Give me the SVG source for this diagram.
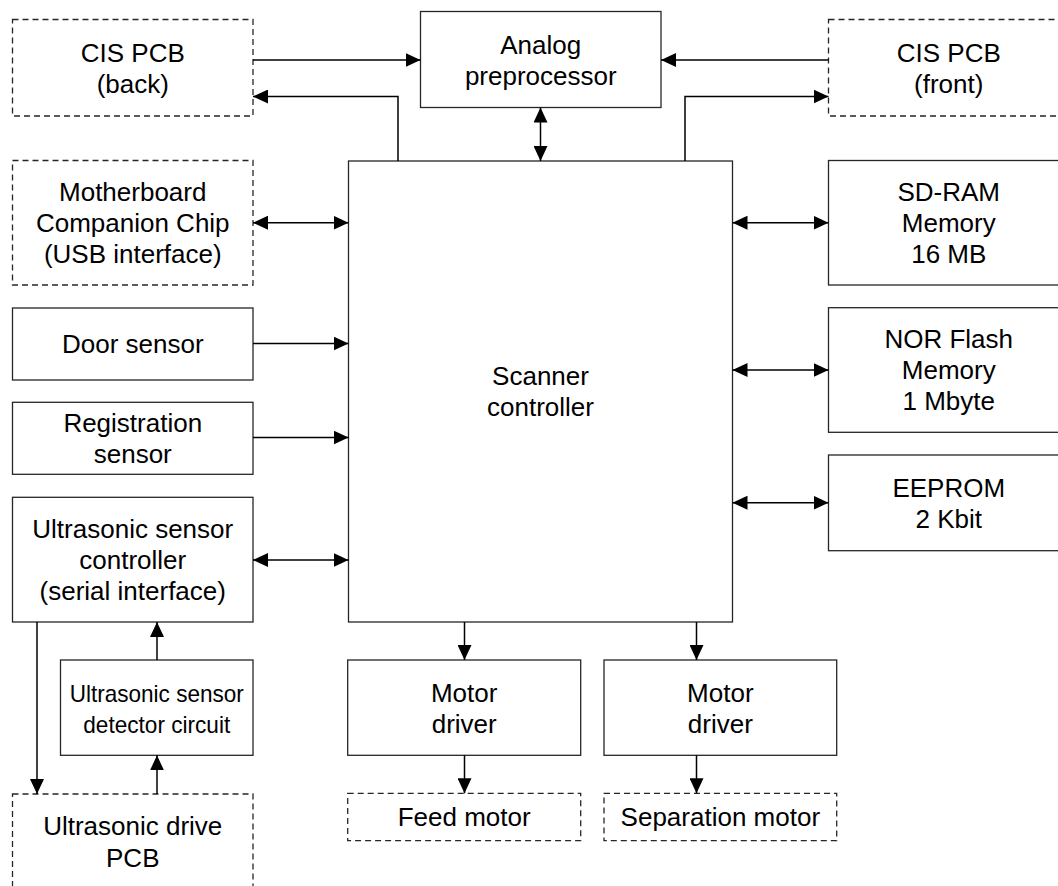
<svg xmlns="http://www.w3.org/2000/svg" width="1058" height="886" viewBox="0 0 1058 886">
<style>
  .box { fill: #ffffff; stroke: #262626; stroke-width: 1.3; }
  .dash { stroke-dasharray: 6 4; }
  .t { font-family: "Liberation Sans", Arial, sans-serif; font-size: 26px; fill: #000; text-anchor: middle; }
  .ts { font-family: "Liberation Sans", Arial, sans-serif; font-size: 24px; fill: #000; text-anchor: middle; }
  .c { fill: none; stroke: #000; stroke-width: 1.5; }
  .one { marker-end: url(#ah); }
  .two { marker-start: url(#ah); marker-end: url(#ah); }
</style>
<defs>
  <marker id="ah" viewBox="0 0 15 14" refX="15" refY="7" markerWidth="15" markerHeight="14" orient="auto-start-reverse" markerUnits="userSpaceOnUse">
    <path d="M0,0 L15,7 L0,14 z" fill="#000"/>
  </marker>
</defs>
<rect width="1058" height="886" fill="#ffffff"/>

<g id="cis-back">
  <rect class="box dash" x="12.5" y="19.5" width="240.5" height="96.5"/>
  <text class="t" x="132.75" y="61.5">CIS PCB</text>
  <text class="t" x="132.75" y="92.5">(back)</text>
</g>
<g id="analog">
  <rect class="box" x="420.5" y="11.5" width="240.5" height="96"/>
  <text class="t" x="540.75" y="53.6">Analog</text>
  <text class="t" x="540.75" y="84.6">preprocessor</text>
</g>
<g id="cis-front">
  <rect class="box dash" x="828.5" y="19.5" width="240.5" height="96.5"/>
  <text class="t" x="948.75" y="61.5">CIS PCB</text>
  <text class="t" x="948.75" y="92.5">(front)</text>
</g>
<g id="controller">
  <rect class="box" x="348.5" y="161" width="384" height="461"/>
  <text class="t" x="540.5" y="385">Scanner</text>
  <text class="t" x="540.5" y="416">controller</text>
</g>
<g id="motherboard">
  <rect class="box dash" x="12.5" y="160.5" width="240.5" height="124.5"/>
  <text class="t" x="132.75" y="201">Motherboard</text>
  <text class="t" x="132.75" y="232">Companion Chip</text>
  <text class="t" x="132.75" y="263">(USB interface)</text>
</g>
<g id="door">
  <rect class="box" x="12.5" y="308" width="240.5" height="72"/>
  <text class="t" x="132.75" y="353">Door sensor</text>
</g>
<g id="registration">
  <rect class="box" x="12.5" y="402.3" width="240.5" height="72"/>
  <text class="t" x="132.75" y="432">Registration</text>
  <text class="t" x="132.75" y="463">sensor</text>
</g>
<g id="us-controller">
  <rect class="box" x="12.5" y="497.3" width="240.5" height="124.7"/>
  <text class="t" x="132.75" y="537.5">Ultrasonic sensor</text>
  <text class="t" x="132.75" y="568.5">controller</text>
  <text class="t" x="132.75" y="599.5">(serial interface)</text>
</g>
<g id="us-detector">
  <rect class="box" x="60.5" y="660" width="192.5" height="95.3"/>
  <text class="ts" x="156.75" y="701.5" textLength="174" lengthAdjust="spacingAndGlyphs">Ultrasonic sensor</text>
  <text class="ts" x="156.75" y="733" textLength="147" lengthAdjust="spacingAndGlyphs">detector circuit</text>
</g>
<g id="us-drive">
  <rect class="box dash" x="12.5" y="794" width="240.5" height="96"/>
  <text class="t" x="132.75" y="835">Ultrasonic drive</text>
  <text class="t" x="132.75" y="866.5">PCB</text>
</g>
<g id="motor-driver-1">
  <rect class="box" x="347.7" y="660" width="233" height="95.3"/>
  <text class="t" x="464.2" y="701.5">Motor</text>
  <text class="t" x="464.2" y="732.5">driver</text>
</g>
<g id="motor-driver-2">
  <rect class="box" x="604" y="660" width="232.7" height="95.3"/>
  <text class="t" x="720.35" y="701.5">Motor</text>
  <text class="t" x="720.35" y="732.5">driver</text>
</g>
<g id="feed-motor">
  <rect class="box dash" x="347.7" y="793.3" width="233" height="47.4"/>
  <text class="t" x="464.2" y="826.3">Feed motor</text>
</g>
<g id="separation-motor">
  <rect class="box dash" x="604" y="793.3" width="232.7" height="47.4"/>
  <text class="t" x="720.35" y="826.3">Separation motor</text>
</g>
<g id="sdram">
  <rect class="box" x="828.5" y="160.5" width="240.5" height="124.5"/>
  <text class="t" x="948.75" y="201">SD-RAM</text>
  <text class="t" x="948.75" y="232">Memory</text>
  <text class="t" x="948.75" y="263">16 MB</text>
</g>
<g id="nor">
  <rect class="box" x="828.5" y="307.7" width="240.5" height="124.6"/>
  <text class="t" x="948.75" y="348">NOR Flash</text>
  <text class="t" x="948.75" y="379">Memory</text>
  <text class="t" x="948.75" y="410">1 Mbyte</text>
</g>
<g id="eeprom">
  <rect class="box" x="828.5" y="455" width="240.5" height="95.7"/>
  <text class="t" x="948.75" y="496.5">EEPROM</text>
  <text class="t" x="948.75" y="527.5">2 Kbit</text>
</g>

<g id="connectors">
  <path class="c one" d="M253,60 H420.5"/>
  <path class="c one" d="M398,161 V96.5 H253"/>
  <path class="c one" d="M828.5,60 H661"/>
  <path class="c one" d="M685,161 V96.5 H828.5"/>
  <path class="c two" d="M540.5,107.5 V161"/>
  <path class="c two" d="M253,222.7 H348.5"/>
  <path class="c one" d="M253,343.5 H348.5"/>
  <path class="c one" d="M253,437.5 H348.5"/>
  <path class="c two" d="M253,560 H348.5"/>
  <path class="c one" d="M157,660 V622"/>
  <path class="c one" d="M157,794 V755.3"/>
  <path class="c one" d="M37,622 V794"/>
  <path class="c one" d="M464.5,622 V660"/>
  <path class="c one" d="M696.5,622 V660"/>
  <path class="c one" d="M464.5,755.3 V793.3"/>
  <path class="c one" d="M696.5,755.3 V793.3"/>
  <path class="c two" d="M732.5,222.7 H828.5"/>
  <path class="c two" d="M732.5,370 H828.5"/>
  <path class="c two" d="M732.5,502.7 H828.5"/>
</g>
</svg>
